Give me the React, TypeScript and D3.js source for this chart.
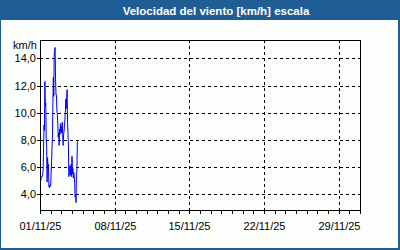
import React from "react";
import * as d3 from "d3";

const title = "Velocidad del viento [km/h] escala";
const unitLabel = "km/h";
// hours after 01/11/25 00:00
const hours = [1,2,3,4,5,6,7,8,9,10,11,12,13,14,15,16,17,18,19,20,21,22,23,24,25,26,27,28,29,30,31,32,33,34,35,36,37,38,39,40,41,42,43,44,45,46,47,48,49,50,51,52,53,54,55,56,57,58,59,60,61,62,63,64,65,66,67,68,69,70,71,72,73,74,75,76,77,78,79,80,81,82,83,84];
const speeds = [5.0,5.0,5.3,5.3,5.3,5.5,5.8,7.4,9.1,8.7,12.3,10.5,10.7,8.0,7.5,4.9,6.7,6.0,6.2,4.6,4.5,4.7,4.6,4.6,5.5,6.3,7.5,8.2,10.5,12.6,11.2,14.3,14.6,14.8,12.5,11.3,11.3,10.2,9.9,9.2,8.2,8.5,7.6,8.8,8.4,9.2,8.6,9.0,8.5,9.3,8.5,7.6,8.4,8.6,9.0,9.5,10.0,11.0,10.3,11.1,11.7,9.3,8.4,7.4,5.3,5.8,6.1,5.4,5.8,6.2,5.3,6.8,5.5,5.9,5.2,5.6,5.3,4.8,3.8,4.0,3.4,5.6,5.6,7.9];
const yTicks = [4, 6, 8, 10, 12, 14];
const xTickDates = ["2025-11-01", "2025-11-08", "2025-11-15", "2025-11-22", "2025-11-29"];
const xTickLabels = ["01/11/25", "08/11/25", "15/11/25", "22/11/25", "29/11/25"];

const W = 400, H = 250;
const L = 40, R = 360, T = 40, B = 210;
const start = new Date(2025, 10, 1);
const end = new Date(2025, 11, 1);
const parse = (s: string) => { const [y, m, d] = s.split("-").map(Number); return new Date(y, m - 1, d); };

export default function App() {
  const x = d3.scaleTime().domain([start, end]).range([L, R]);
  const y = d3.scaleLinear().domain([2.85, 15.35]).range([B, T]);
  const data = hours.map((h, i) => ({ t: new Date(start.getTime() + h * 3600000), v: speeds[i] }));
  const line = d3.line<{ t: Date; v: number }>().x(d => x(d.t)).y(d => y(d.v));
  const days = d3.timeDay.range(start, d3.timeDay.offset(end, 1));
  const font = "'Liberation Sans', Arial, sans-serif";
  const blue = "#1f5e95";
  return (
    <svg width={W} height={H} style={{ position: "absolute", left: 0, top: 0 }} fontFamily={font}>
      <rect x={0} y={0} width={W} height={H} fill="#fcfefc" />
      <rect x={0.5} y={0.5} width={W - 1} height={H - 1} fill="none" stroke={blue} strokeWidth={1} />
      <rect x={W - 2} y={0} width={2} height={H} fill={blue} />
      <rect x={0} y={H - 2} width={W} height={2} fill={blue} />
      <rect x={0} y={0} width={W} height={20} fill={blue} />
      <text x={216} y={14.5} fill="#ffffff" fontWeight="bold" fontSize={11.5} textAnchor="middle">{title}</text>
      {yTicks.map(v => (
        <g key={"y" + v}>
          <line x1={L} x2={R} y1={Math.round(y(v)) + 0.5} y2={Math.round(y(v)) + 0.5} stroke="#000" strokeDasharray="3,3" />
          <line x1={L - 3} x2={L} y1={Math.round(y(v)) + 0.5} y2={Math.round(y(v)) + 0.5} stroke="#000" />
          <text x={36} y={y(v) + 4} fontSize={11} textAnchor="end" fill="#000">{v.toFixed(1).replace(".", ",")}</text>
        </g>
      ))}
      {xTickDates.map((s, i) => {
        const xx = Math.round(x(parse(s))) + 0.5;
        return (
          <g key={"x" + s}>
            {i > 0 && <line x1={xx} x2={xx} y1={T} y2={B} stroke="#000" strokeDasharray="3,3" />}
            <text x={xx} y={230} fontSize={11} textAnchor="middle" fill="#000">{xTickLabels[i]}</text>
          </g>
        );
      })}
      {days.map(d => {
        const xx = Math.round(x(d)) + 0.5;
        return <line key={d.getTime()} x1={xx} x2={xx} y1={B} y2={B + 4} stroke="#000" />;
      })}
      <text x={13} y={49} fontSize={11} fill="#000">{unitLabel}</text>
      <path d={line(data) || ""} fill="none" stroke="#0000ff" strokeWidth={1} />
      <rect x={L + 0.5} y={T + 0.5} width={R - L} height={B - T} fill="none" stroke="#000" strokeWidth={1} />
    </svg>
  );
}
